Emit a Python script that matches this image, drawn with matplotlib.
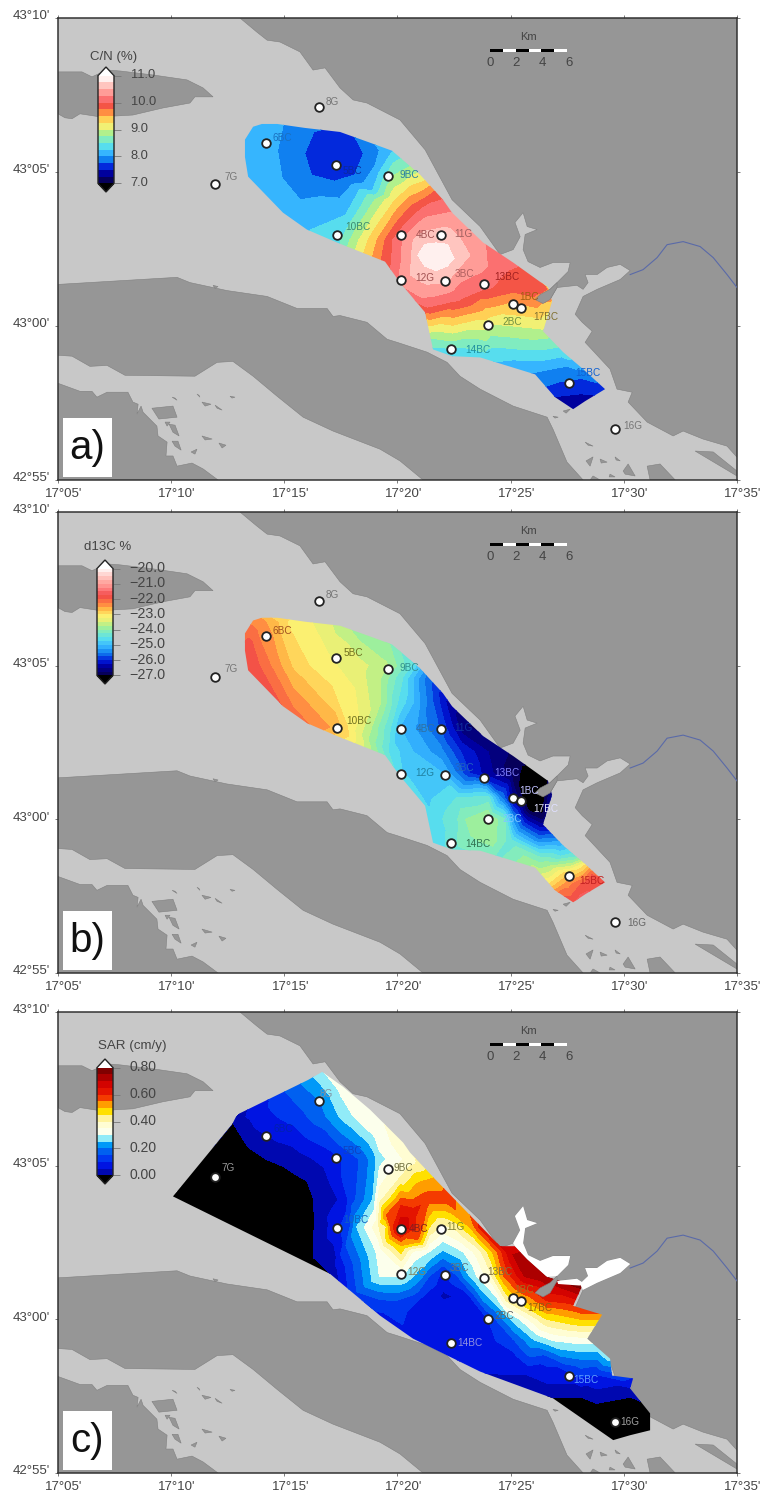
import matplotlib
matplotlib.use('Agg')
import matplotlib.pyplot as plt
import matplotlib.tri as mtri
from matplotlib.cm import ScalarMappable
from matplotlib.colors import BoundaryNorm, LinearSegmentedColormap
from matplotlib.patches import Polygon, Rectangle
from matplotlib.transforms import ScaledTranslation
import numpy as np

plt.rcParams['font.family'] = ['Liberation Sans', 'DejaVu Sans']

# all map coordinates are arc minutes: lon east of 17 deg 00', lat north of 42 deg 50'
north_land = [(13.04, 20.0), (13.79, 19.54), (14.24, 19.28), (14.81, 19.22), (15.69, 18.90), (16.27, 18.31),
              (16.80, 18.38), (17.46, 17.73), (18.04, 17.34), (18.65, 17.24), (20.11, 16.69), (21.22, 15.72),
              (22.41, 14.10), (23.65, 13.23), (24.53, 12.32), (25.11, 12.48), (25.42, 12.90), (25.19, 13.36),
              (25.55, 13.68), (25.73, 13.23), (26.17, 13.13), (25.64, 12.97), (25.55, 12.48), (25.77, 12.09),
              (26.30, 11.90), (26.87, 12.06), (27.63, 12.06), (27.54, 11.77), (27.05, 11.41), (26.74, 11.19),
              (26.30, 11.02), (26.08, 10.86), (26.43, 10.73), (26.74, 10.86), (27.05, 11.25), (27.93, 11.32),
              (28.20, 11.19), (28.42, 11.41), (28.29, 11.67), (28.82, 11.67), (29.26, 11.90), (29.84, 12.00),
              (30.28, 11.80), (29.84, 11.51), (28.82, 11.19), (28.20, 10.96), (27.85, 10.38), (28.16, 10.12),
              (28.60, 9.83), (28.29, 9.47), (29.39, 8.60), (29.70, 7.95), (30.37, 7.85), (30.19, 7.53),
              (31.03, 6.88), (32.18, 6.43), (32.62, 6.59), (33.50, 6.33), (34.56, 6.10), (35.0, 5.74), (35.0, 20.0)]
middle_land = [(5.0, 11.35), (10.26, 11.58), (10.83, 11.41), (12.47, 11.15), (14.24, 10.96), (15.56, 10.57),
               (16.89, 10.57), (17.15, 10.31), (17.46, 10.34), (18.65, 10.12), (19.54, 9.57), (19.98, 9.47),
               (21.31, 9.15), (22.19, 8.82), (22.76, 8.37), (23.65, 7.95), (25.11, 7.40), (26.61, 7.04),
               (26.87, 6.65), (27.49, 5.58), (28.20, 5.0), (21.13, 5.0), (20.11, 5.62), (19.23, 6.00),
               (17.15, 6.59), (15.83, 7.04), (14.68, 7.72), (13.62, 8.37), (12.73, 8.85), (12.03, 8.82),
               (11.05, 8.37), (7.96, 8.40), (7.17, 8.72), (6.41, 8.69), (5.62, 9.02), (5.0, 9.05)]
southwest_land = [(5.0, 8.14), (5.97, 7.88), (6.50, 7.88), (6.72, 7.69), (7.17, 7.85), (8.09, 7.85), (8.31, 7.53),
                  (8.54, 7.46), (8.49, 7.14), (8.67, 7.40), (8.76, 7.20), (9.37, 6.75), (9.42, 6.43), (9.82, 6.23),
                  (9.77, 5.78), (10.08, 5.78), (10.26, 5.45), (10.92, 5.55), (11.41, 5.36), (12.07, 5.0), (5.0, 5.0)]
northwest_island = [(5.0, 18.25), (6.06, 18.25), (6.50, 18.09), (7.17, 18.31), (7.74, 18.28), (9.20, 18.15),
                    (10.70, 17.99), (11.41, 17.73), (11.85, 17.44), (11.05, 17.44), (10.83, 17.24), (9.64, 17.08),
                    (8.31, 16.85), (6.86, 16.79), (5.97, 16.89), (5.62, 16.73), (5.31, 16.76), (5.0, 16.89)]
small_islands = [
    [(9.15, 7.33), (10.08, 7.40), (10.26, 7.04), (9.46, 6.98)],
    [(9.91, 6.81), (10.17, 6.78), (10.35, 6.43), (10.08, 6.55)],
    [(10.04, 6.26), (10.30, 6.26), (10.44, 5.97), (10.17, 6.10)],
    [(10.88, 5.91), (11.14, 6.00), (11.05, 5.84)],
    [(11.36, 6.43), (11.81, 6.33), (11.50, 6.30)],
    [(12.11, 6.20), (12.42, 6.13), (12.25, 6.04)],
    [(11.36, 7.53), (11.76, 7.46), (11.50, 7.40)],
    [(11.94, 7.43), (12.25, 7.27), (12.03, 7.33)],
    [(11.14, 7.79), (11.27, 7.69), (11.23, 7.75)],
    [(10.04, 7.69), (10.26, 7.59), (10.17, 7.66)],
    [(12.60, 7.72), (12.82, 7.69), (12.69, 7.66)],
    [(11.85, 11.32), (12.07, 11.28), (11.94, 11.22)],
    [(9.73, 6.88), (9.82, 6.75), (9.95, 6.88)],
    [(28.29, 6.23), (28.64, 6.10), (28.42, 6.13)],
    [(28.33, 5.62), (28.64, 5.75), (28.51, 5.45)],
    [(28.95, 5.68), (29.26, 5.58), (29.00, 5.55)],
    [(29.61, 5.75), (29.84, 5.62), (29.66, 5.65)],
    [(29.97, 5.29), (30.19, 5.52), (30.50, 5.13), (30.06, 5.19)],
    [(31.03, 5.45), (31.60, 5.52), (32.27, 5.0), (31.16, 5.0)],
    [(28.64, 5.13), (28.95, 5.0), (28.51, 5.0)],
    [(29.39, 5.19), (29.61, 5.10), (29.35, 5.10)],
    [(33.15, 5.94), (33.95, 5.91), (35.0, 5.29), (35.0, 5.13)],
    [(26.87, 7.07), (27.10, 7.04), (26.96, 7.01)],
    [(27.32, 7.24), (27.63, 7.30), (27.45, 7.17)],
]
# land spit that sits on top of the coloured field
land_spit = [(26.30, 11.02), (26.08, 10.86), (26.43, 10.73), (26.74, 10.86), (27.05, 11.25), (27.05, 11.41),
             (26.74, 11.19)]
river = [(30.28, 11.67), (30.85, 11.83), (31.47, 12.22), (31.91, 12.64), (32.62, 12.74), (33.37, 12.58),
         (33.95, 12.22), (34.56, 11.67), (35.0, 11.25)]

# inlets shown white (above range) in panel c
sar_white_bays = [
    [(25.11, 12.48), (25.42, 12.90), (25.19, 13.36), (25.55, 13.68), (25.73, 13.23), (26.17, 13.13), (25.64, 12.97),
     (25.55, 12.48), (25.77, 12.09), (26.30, 11.90), (26.87, 12.06), (27.63, 12.06), (27.54, 11.77), (27.05, 11.41),
     (26.61, 11.38), (25.73, 11.96), (25.19, 12.38)],
    [(28.42, 11.41), (28.29, 11.67), (28.82, 11.67), (29.26, 11.90), (29.84, 12.00), (30.28, 11.80), (29.84, 11.51),
     (28.82, 11.19), (28.20, 10.96), (28.05, 11.15)],
    [(27.05, 11.25), (27.93, 11.32), (28.20, 11.19), (28.05, 11.10), (27.10, 11.15)],
]

channel_outline = [(13.26, 15.49), (13.26, 16.05), (13.62, 16.47), (14.01, 16.56), (14.68, 16.56), (15.92, 16.43),
                   (17.46, 16.30), (18.79, 15.95), (19.76, 15.69), (21.00, 14.91), (22.01, 14.10), (22.41, 13.68),
                   (23.78, 12.71), (25.11, 12.06), (26.65, 11.25), (26.83, 10.80), (26.43, 9.83), (27.32, 9.15),
                   (28.20, 8.60), (29.17, 7.95), (28.29, 7.56), (27.76, 7.30), (26.96, 7.69), (26.08, 8.43),
                   (23.65, 8.98), (22.41, 9.02), (21.57, 9.24), (21.35, 9.99), (21.22, 10.44), (20.11, 11.41),
                   (19.45, 12.09), (17.33, 12.71), (16.00, 13.13), (14.94, 13.68), (13.40, 14.85)]
sar_outline = [(10.08, 14.00), (12.69, 16.34), (12.91, 16.66), (16.05, 17.79), (16.67, 18.05), (17.59, 17.57),
               (18.79, 16.82), (20.25, 15.75), (20.55, 15.43), (21.66, 14.56), (23.07, 13.49), (24.53, 12.38),
               (25.19, 12.38), (25.73, 11.96), (26.61, 11.38), (27.18, 11.25), (28.20, 11.15), (27.76, 10.44),
               (29.04, 10.15), (28.38, 9.37), (29.39, 8.72), (29.48, 8.17), (30.41, 8.08), (30.28, 7.75),
               (31.16, 6.94), (31.16, 6.39), (30.28, 6.23), (29.53, 6.07), (26.87, 7.43), (23.65, 8.30),
               (20.69, 9.37), (19.23, 10.12), (17.02, 11.48)]

stations = ['6BC', '5BC', '9BC', '7G', '8G', '10BC', '4BC', '11G', '12G', '3BC', '13BC', '1BC', '17BC', '2BC',
            '14BC', '15BC', '16G']
station_lon = [14.19, 17.28, 19.58, 11.94, 16.53, 17.33, 20.16, 21.92, 20.16, 22.10, 23.82, 25.11, 25.46, 24.00,
               22.37, 27.58, 29.61]
station_lat = [15.95, 15.24, 14.88, 14.62, 17.11, 12.97, 12.94, 12.94, 11.48, 11.45, 11.35, 10.70, 10.60, 10.02,
               9.24, 8.14, 6.65]

# field values: (lon, lat, value)
cn_nodes = [
    (17.2, 15.6, 7.6), (16.6, 15.5, 7.6), (17.8, 15.5, 7.6),
    (15.9, 15.6, 7.75), (16.3, 16.3, 7.75), (17.2, 16.5, 7.75), (18.0, 16.3, 7.75), (18.5, 15.6, 7.75),
    (18.1, 14.9, 7.75), (17.2, 14.7, 7.75), (16.2, 14.9, 7.75),
    (14.7, 15.7, 8.0), (14.9, 14.8, 8.0), (15.7, 14.1, 8.0), (16.6, 14.2, 8.0), (18.0, 14.6, 8.0), (19.0, 15.2, 8.0),
    (19.2, 15.7, 8.0), (18.5, 16.5, 8.0), (15.0, 16.7, 8.0),
    (13.3, 15.7, 8.15), (14.0, 16.6, 8.1), (13.4, 14.9, 8.15), (14.9, 13.7, 8.2), (12.8, 16.8, 8.1), (12.8, 14.5, 8.1),
    (14.5, 13.0, 8.2), (16.0, 17.0, 7.9), (17.5, 17.0, 7.9), (19.0, 16.6, 8.1),
    (16.1, 13.1, 8.25), (17.7, 13.6, 8.25), (18.9, 14.4, 8.25), (19.8, 15.7, 8.25),
    (17.5, 12.8, 8.5), (18.3, 12.8, 9.0), (19.1, 12.8, 9.5), (19.8, 12.8, 10.0), (20.3, 12.8, 10.3),
    (17.3, 12.3, 8.5), (19.2, 12.1, 9.7), (19.9, 12.0, 10.1), (18.3, 12.1, 9.2),
    (19.0, 14.1, 8.75), (19.9, 14.1, 9.25), (20.6, 13.9, 9.75), (21.3, 13.8, 10.1),
    (20.6, 15.2, 8.75), (21.2, 14.7, 9.25), (21.7, 14.4, 9.75), (22.0, 14.1, 10.0), (22.4, 13.7, 10.25),
    (21.5, 15.6, 8.8), (22.5, 14.8, 9.8), (23.5, 13.5, 10.3),
    (21.7, 12.3, 10.9), (20.8, 12.8, 10.55), (20.6, 12.2, 10.5), (22.8, 12.8, 10.5), (23.2, 12.3, 10.5),
    (21.9, 11.4, 10.5), (20.9, 12.3, 10.75), (21.7, 12.7, 10.75), (22.5, 12.2, 10.75), (21.7, 11.8, 10.75),
    (21.2, 12.65, 10.75), (22.2, 12.65, 10.75), (22.2, 11.95, 10.75), (21.2, 11.95, 10.75),
    (23.7, 11.9, 10.3), (24.8, 12.1, 10.1), (21.0, 11.0, 10.3), (20.1, 11.4, 10.3), (25.9, 11.3, 10.0),
    (23.8, 11.3, 10.1), (22.5, 10.9, 10.1), (21.4, 10.7, 10.1), (25.6, 12.0, 10.0),
    (21.2, 10.4, 9.75), (23.7, 10.9, 9.75), (25.1, 11.1, 9.75), (26.6, 11.2, 9.75),
    (21.3, 10.3, 9.5), (23.7, 10.5, 9.5), (26.7, 10.8, 9.5),
    (21.4, 10.0, 9.25), (24.1, 10.3, 9.25), (26.7, 10.5, 9.25),
    (21.4, 9.8, 9.0), (24.0, 9.9, 9.0), (26.4, 9.9, 9.0),
    (21.5, 9.6, 8.75), (24.1, 9.7, 8.75), (26.6, 9.6, 8.75),
    (21.6, 9.3, 8.5), (24.2, 9.3, 8.5), (27.0, 9.3, 8.5),
    (22.4, 9.0, 8.25), (25.1, 8.9, 8.25), (27.6, 8.9, 8.25),
    (26.1, 8.5, 8.0), (27.5, 8.7, 8.0), (28.4, 8.6, 8.0),
    (26.4, 8.0, 7.75), (28.1, 8.3, 7.75), (29.1, 8.1, 7.75),
    (26.9, 7.7, 7.5), (28.1, 7.8, 7.5), (29.3, 7.8, 7.5),
    (27.8, 7.2, 7.25), (28.5, 7.4, 7.25), (21.0, 9.0, 8.4), (23.8, 8.7, 8.2), (29.9, 8.6, 7.9),
]
d13c_nodes = [
    (13.0, 15.0, -21.7), (13.4, 15.5, -21.8), (13.9, 15.0, -22.0), (14.5, 15.0, -22.3), (15.4, 15.0, -22.8),
    (16.1, 15.0, -23.0), (17.0, 15.0, -23.2), (18.3, 15.0, -23.4), (19.5, 15.0, -23.7), (20.4, 15.0, -24.3),
    (15.4, 13.0, -22.0), (17.3, 13.0, -22.6), (17.8, 13.0, -23.0), (18.8, 13.0, -23.7), (19.8, 13.0, -24.6),
    (13.9, 16.4, -22.4), (14.5, 16.4, -22.6), (15.1, 16.4, -23.0), (16.9, 16.4, -23.4), (17.3, 16.4, -23.6),
    (18.3, 16.4, -24.0), (19.8, 16.4, -24.3), (13.4, 16.9, -22.5), (21.5, 15.3, -25.2),
    (19.2, 14.6, -23.7), (20.1, 14.6, -24.4), (20.7, 14.6, -25.0), (21.3, 14.6, -25.6),
    (19.2, 13.8, -23.7), (20.0, 13.8, -24.5), (20.7, 13.8, -25.0), (21.4, 13.8, -25.6), (22.2, 13.8, -26.3),
    (20.1, 13.0, -25.0), (20.9, 13.0, -25.3), (21.9, 13.0, -25.8), (22.5, 13.0, -26.3), (22.9, 13.0, -26.7),
    (19.7, 12.2, -24.6), (20.7, 12.2, -25.0), (21.9, 12.2, -25.4), (22.8, 12.2, -26.0), (24.0, 12.2, -26.5),
    (25.1, 12.2, -26.8), (23.9, 13.2, -27.0),
    (20.1, 11.5, -24.7), (22.0, 11.5, -25.0), (22.6, 11.5, -25.5), (23.2, 11.5, -26.0), (23.8, 11.5, -26.3),
    (25.1, 11.5, -26.9), (25.7, 11.5, -27.1), (26.6, 11.5, -27.2),
    (21.4, 10.7, -24.8), (22.6, 10.7, -24.5), (24.0, 10.7, -24.4), (24.6, 10.7, -25.5), (25.1, 10.7, -26.5),
    (25.6, 10.7, -27.1), (26.4, 10.7, -27.2), (25.8, 10.3, -27.05), (26.4, 10.3, -27.1),
    (21.4, 10.0, -24.7), (22.6, 10.0, -24.3), (23.0, 10.0, -24.0), (24.0, 10.0, -23.7), (24.7, 10.0, -24.2),
    (25.1, 10.0, -25.3), (25.7, 10.0, -26.3), (26.4, 10.0, -26.8),
    (21.7, 9.3, -24.7), (22.4, 9.3, -24.35), (23.0, 9.3, -24.1), (24.2, 9.3, -23.9), (25.0, 9.3, -24.4),
    (26.2, 9.3, -25.4), (27.1, 9.3, -25.3),
    (22.0, 8.7, -24.6), (24.2, 8.6, -24.3), (26.3, 8.8, -24.3), (27.2, 8.8, -24.5), (27.9, 8.8, -24.3),
    (26.7, 8.5, -23.8), (28.1, 8.5, -23.2), (28.6, 8.5, -22.6),
    (26.3, 8.2, -23.5), (27.5, 8.2, -22.8), (28.6, 8.2, -22.0),
    (26.7, 7.9, -23.0), (27.5, 7.9, -22.4), (28.4, 7.9, -21.8), (29.3, 7.9, -21.8),
    (27.2, 7.5, -22.0), (27.8, 7.2, -21.7), (28.4, 7.4, -21.7),
]
sar_nodes = [
    (10.0, 13.9, -0.05), (11.9, 14.6, -0.05), (12.4, 16.0, -0.05), (13.9, 14.4, -0.05), (15.7, 13.5, -0.05),
    (15.7, 11.9, -0.05), (12.4, 13.1, -0.05), (11.3, 13.1, -0.05), (16.3, 11.2, -0.05),
    (12.8, 16.3, 0.0), (13.4, 15.6, 0.0), (14.2, 15.2, 0.0), (16.0, 14.5, 0.0), (16.3, 13.9, 0.0), (16.3, 12.0, 0.0),
    (17.0, 11.5, 0.0),
    (15.4, 15.2, 0.02), (17.2, 15.2, 0.08), (18.3, 15.2, 0.15), (18.9, 15.2, 0.22), (19.2, 15.2, 0.28),
    (19.8, 15.2, 0.32), (20.4, 15.2, 0.36),
    (12.9, 16.6, 0.03), (13.9, 16.6, 0.08), (15.4, 16.6, 0.12), (16.6, 16.6, 0.18), (17.3, 16.6, 0.24),
    (17.8, 16.6, 0.28), (18.3, 16.6, 0.32), (19.1, 16.2, 0.34),
    (16.0, 17.8, 0.22), (16.7, 18.1, 0.3), (17.6, 17.6, 0.33), (16.6, 17.1, 0.2), (14.7, 17.2, 0.12),
    (13.4, 16.9, 0.05), (15.0, 18.2, 0.2), (18.0, 18.3, 0.34), (19.5, 17.0, 0.36),
    (16.9, 13.9, 0.03), (17.6, 13.9, 0.06), (17.9, 13.9, 0.12), (18.4, 13.9, 0.18), (18.9, 13.9, 0.25),
    (19.2, 13.9, 0.38), (19.8, 13.9, 0.48), (20.7, 13.9, 0.55), (21.3, 13.9, 0.58), (22.2, 13.9, 0.58),
    (20.1, 14.6, 0.4), (20.9, 14.6, 0.48), (21.6, 14.6, 0.5), (22.5, 14.8, 0.55),
    (17.3, 13.0, 0.08), (17.9, 13.0, 0.15), (18.2, 13.0, 0.25), (18.4, 13.0, 0.28), (19.1, 13.0, 0.38),
    (19.5, 13.0, 0.45), (19.8, 13.0, 0.6), (20.15, 12.95, 0.7), (20.7, 13.0, 0.62), (21.1, 13.0, 0.55),
    (21.4, 13.0, 0.45), (22.0, 13.0, 0.38), (22.6, 13.0, 0.42), (23.2, 13.0, 0.5), (23.6, 13.0, 0.6),
    (19.5, 13.4, 0.55), (20.7, 13.5, 0.62), (20.9, 12.6, 0.55), (19.6, 12.6, 0.48), (20.15, 13.7, 0.6),
    (20.15, 12.4, 0.5),
    (19.2, 12.2, 0.32), (20.7, 12.2, 0.34), (21.4, 12.2, 0.3), (22.0, 12.2, 0.24), (22.9, 12.2, 0.3),
    (23.6, 12.2, 0.38), (24.2, 12.2, 0.5), (24.8, 12.2, 0.65), (25.1, 12.1, 0.7),
    (19.2, 11.4, 0.3), (20.2, 11.4, 0.3), (21.0, 11.4, 0.22), (21.4, 11.4, 0.15), (22.0, 11.4, 0.08),
    (22.6, 11.4, 0.14), (23.1, 11.4, 0.24), (23.5, 11.4, 0.3), (24.1, 11.4, 0.38), (24.7, 11.4, 0.55),
    (25.6, 11.4, 0.7), (26.6, 11.4, 0.75), (28.2, 11.1, 0.78),
    (17.6, 10.6, 0.06), (19.2, 10.6, 0.14), (19.9, 10.6, 0.15), (20.9, 10.6, 0.1), (22.05, 10.8, 0.04), (22.0, 10.3, 0.07),
    (23.2, 10.6, 0.07), (23.8, 10.6, 0.2), (24.4, 10.6, 0.28), (24.8, 10.6, 0.4), (25.6, 10.6, 0.5),
    (26.6, 10.6, 0.6), (27.6, 10.6, 0.62),
    (19.0, 9.9, 0.06), (20.7, 10.0, 0.07), (22.2, 9.9, 0.07), (24.0, 10.0, 0.1), (24.8, 10.0, 0.22),
    (25.4, 10.0, 0.3), (26.6, 10.0, 0.45), (28.1, 10.0, 0.5), (28.6, 10.0, 0.5), (29.2, 10.2, 0.55),
    (20.5, 9.2, 0.06), (22.3, 9.3, 0.06), (23.6, 9.3, 0.06), (25.1, 9.3, 0.14), (26.0, 9.3, 0.24),
    (26.9, 9.3, 0.3), (28.1, 9.3, 0.32), (28.9, 9.3, 0.32),
    (23.6, 8.7, 0.06), (25.1, 8.7, 0.07), (26.6, 8.7, 0.12), (28.1, 8.7, 0.2), (29.3, 8.7, 0.26),
    (23.0, 8.0, 0.04), (25.7, 8.2, 0.05), (27.6, 8.2, 0.08), (28.8, 8.2, 0.1), (30.3, 8.2, 0.12),
    (26.6, 7.7, 0.03), (28.1, 7.7, 0.03), (30.3, 7.7, 0.03),
    (26.9, 7.45, -0.002), (28.1, 7.45, -0.002), (30.3, 7.45, -0.002), (31.2, 6.9, -0.002),
    (29.6, 6.6, -0.05), (28.8, 6.8, -0.05), (30.9, 6.6, -0.05), (30.3, 6.1, -0.05), (29.5, 5.9, -0.05),
    (31.5, 6.4, -0.05), (27.5, 6.9, -0.05), (31.5, 7.1, 0.0), (31.0, 8.4, 0.12), (30.0, 9.2, 0.33),
]

map_colors = [(0.0, '#06005a'), (0.07, '#0000a0'), (0.12, '#0018d8'), (0.2, '#1080f0'), (0.27, '#38b8ff'),
              (0.33, '#55dcf0'), (0.40, '#80ecc0'), (0.46, '#a8f090'), (0.50, '#e0f078'), (0.56, '#fff070'),
              (0.62, '#ffc048'), (0.68, '#ff8040'), (0.75, '#f04848'), (0.82, '#ff8080'), (0.90, '#ffb0a8'),
              (1.0, '#fff0ee')]
sar_colors = [(0.0, '#0008b0'), (0.06, '#0010e0'), (0.12, '#0030f0'), (0.2, '#0060f0'), (0.26, '#0090f8'),
              (0.31, '#00d0f8'), (0.35, '#f8fff8'), (0.45, '#ffffe0'), (0.55, '#fff090'), (0.6, '#ffe000'),
              (0.68, '#ff9000'), (0.75, '#f02000'), (0.88, '#d00000'), (1.0, '#800000')]

cn_levels = np.arange(7.0, 11.01, 0.25)
d13c_levels = np.arange(-27.0, -19.99, 0.25)
sar_levels = np.arange(0.0, 0.801, 0.05)
cn_ticks = [7.0, 8.0, 9.0, 10.0, 11.0]
cn_tick_labels = ['7.0', '8.0', '9.0', '10.0', '11.0']
d13c_ticks = [-27, -26, -25, -24, -23, -22, -21, -20]
d13c_tick_labels = ['\u221227.0', '\u221226.0', '\u221225.0', '\u221224.0', '\u221223.0', '\u221222.0', '\u221221.0',
                    '\u221220.0']
sar_ticks = [0.0, 0.2, 0.4, 0.6, 0.8]
sar_tick_labels = ['0.00', '0.20', '0.40', '0.60', '0.80']

lon_ticks = [5, 10, 15, 20, 25, 30, 35]
lon_tick_labels = ["17\u00b005'", "17\u00b010'", "17\u00b015'", "17\u00b020'", "17\u00b025'", "17\u00b030'",
                   "17\u00b035'"]
lat_ticks = [5, 10, 15, 20]
lat_tick_labels = ["42\u00b055'", "43\u00b000'", "43\u00b005'", "43\u00b010'"]

# label offsets from the station in pixels (right, down)
cn_offsets = [(6, -5), (7, 6), (12, -1), (9, -7), (7, -5), (8, -8), (15, 0), (13, -1), (14, -2), (10, -7), (10, -7),
              (6, -7), (12, 9), (14, -3), (14, 1), (6, -10), (8, -3)]
d13c_offsets = [(6, -5), (8, -5), (12, -1), (9, -8), (7, -6), (9, -7), (15, 0), (13, -1), (14, -1), (10, -7), (10, -5),
                (6, -7), (12, 8), (14, 0), (14, 1), (10, 5), (12, 1)]
sar_offsets = [(7, -7), (7, -7), (6, -1), (6, -9), (1, -7), (6, -8), (8, 0), (5, -2), (6, -2), (5, -7), (3, -6),
               (1, -8), (6, 7), (6, -3), (6, 0), (4, 4), (5, 0)]
cn_label_colors = ['#1a70c0', '#0a2aa0', '#2a80a0', '#777777', '#777777', '#3a8a70', '#a05050', '#a06060', '#a05050',
                   '#b06060', '#a02020', '#a06010', '#807030', '#709040', '#2090a0', '#1060d0', '#777777']
d13c_label_colors = ['#a05020', '#707020', '#309090', '#777777', '#777777', '#707020', '#3070a0', '#1030a0', '#2080a0',
                     '#2060c0', '#8080ff', '#c0c0ff', '#e0e0ff', '#80c8ff', '#307050', '#c02020', '#666666']
sar_label_colors = ['#0020b0', '#1040c0', '#707040', '#999999', '#8090a0', '#1060c0', '#802020', '#808030', '#808060',
                    '#607080', '#807040', '#a07020', '#906010', '#606060', '#9090e0', '#60a0ff', '#a0a0a0']

W, H = 765.0, 1499.0
SEA = '#c8c8c8'
LAND = '#969696'
TEXT = '#444444'


def px_axes(fig, left, top, right, bottom):
    return fig.add_axes([left / W, 1 - bottom / H, (right - left) / W, (bottom - top) / H])


def draw_base(ax, fig):
    ax.set_facecolor(SEA)
    ax.set_xlim(5, 35)
    ax.set_ylim(5, 20)
    for coast in [north_land, middle_land, southwest_land, northwest_island] + small_islands:
        ax.add_patch(Polygon(coast, facecolor=LAND, edgecolor='#808080', linewidth=0.4, zorder=1.5))
    ax.add_patch(Polygon(land_spit, facecolor=LAND, edgecolor='#808080', linewidth=0.4, zorder=3))
    ax.plot(*zip(*river), color='#5a6aa8', linewidth=0.8, zorder=3)
    ax.set_xticks(lon_ticks, lon_tick_labels)
    ax.set_yticks(lat_ticks, lat_tick_labels)
    ax.tick_params(top=True, right=True, length=2.5, width=0.6, color='#666666', labelsize=9.5,
                   labelcolor=TEXT, pad=3)
    for label in ax.get_xticklabels():
        label.set_transform(label.get_transform() + ScaledTranslation(0.06, 0, fig.dpi_scale_trans))
    for label in ax.get_yticklabels():
        label.set_transform(label.get_transform() + ScaledTranslation(0, 0.03, fig.dpi_scale_trans))
    for spine in ax.spines.values():
        spine.set_linewidth(1.1)
        spine.set_color('#333333')


def draw_field(ax, nodes, outline, levels, cmap):
    lon, lat, value = zip(*nodes)
    norm = BoundaryNorm(levels, cmap.N)
    tri = mtri.Triangulation(lon, lat)
    filled = ax.tricontourf(tri, value, levels=levels, cmap=cmap, norm=norm, extend='both', zorder=2)
    clip = Polygon(outline, facecolor='none', edgecolor='none', transform=ax.transData)
    ax.add_patch(clip)
    filled.set_clip_path(clip)
    return norm


def draw_stations(ax, offsets, colors):
    ax.plot(station_lon, station_lat, linestyle='none', marker='o', markersize=6.2, markerfacecolor='white',
            markeredgecolor='#222222', markeredgewidth=1.3, zorder=5)
    for i, name in enumerate(stations):
        dx, dy = offsets[i]
        ax.annotate(name, (station_lon[i], station_lat[i]), xytext=(dx * 0.72, -dy * 0.72),
                    textcoords='offset points', fontsize=7.2, color=colors[i], va='center', ha='left', zorder=6)


def draw_scale(ax):
    km = 0.567
    x0, y0 = 24.09, 18.93
    for i in range(6):
        ax.add_patch(Rectangle((x0 + i * km, y0 - 0.05), km, 0.1, facecolor='black' if i % 2 == 0 else 'white',
                               edgecolor='none', zorder=4))
    for i in [0, 2, 4, 6]:
        ax.text(x0 + i * km * 1.02, y0 - 0.4, str(i), fontsize=9.5, color=TEXT, ha='center', va='center', zorder=6)
    ax.text(x0 + 3 * km, y0 + 0.46, 'Km', fontsize=8, color=TEXT, ha='center', va='center', zorder=6)


def draw_tag(ax, tag):
    ax.add_patch(Rectangle((5.2, 5.1), 2.2, 1.92, facecolor='white', edgecolor='none', zorder=7))
    ax.text(6.3, 6.05, tag, fontsize=29, color='#111111', ha='center', va='center', zorder=8)


def draw_colorbar(fig, box, norm, cmap, ticks, labels, size):
    # box includes both end triangles
    cax = px_axes(fig, *box)
    cb = fig.colorbar(ScalarMappable(norm=norm, cmap=cmap), cax=cax, extend='both', extendfrac=0.08, spacing='uniform')
    cb.set_ticks(ticks, labels=labels)
    cb.minorticks_off()
    cb.ax.tick_params(length=5, width=0.6, color='#777777', labelsize=size, labelcolor=TEXT, pad=7)
    for label in cb.ax.get_yticklabels():
        label.set_transform(label.get_transform() + ScaledTranslation(0, 0.02, fig.dpi_scale_trans))
    cb.outline.set_linewidth(1.0)
    cb.outline.set_edgecolor('#222222')
    cax.patch.set_alpha(0)
    return cb


def main():
    fig = plt.figure(figsize=(W / 100, H / 100), dpi=100, facecolor='white')

    map_cmap = LinearSegmentedColormap.from_list('map', map_colors, N=256).with_extremes(over='white', under='black')
    sar_cmap = LinearSegmentedColormap.from_list('sar', sar_colors, N=256).with_extremes(over='white', under='black')

    ax_a = px_axes(fig, 58, 18, 737, 480)
    draw_base(ax_a, fig)
    norm = draw_field(ax_a, cn_nodes, channel_outline, cn_levels, map_cmap)
    draw_stations(ax_a, cn_offsets, cn_label_colors)
    draw_scale(ax_a)
    draw_tag(ax_a, 'a)')
    draw_colorbar(fig, (98, 67, 114, 192), norm, map_cmap, cn_ticks, cn_tick_labels, 9.3)
    fig.text(114 / W, 1 - 57 / H, 'C/N (%)', fontsize=9.5, color=TEXT, ha='center', va='center')

    ax_b = px_axes(fig, 58, 512, 737, 973)
    draw_base(ax_b, fig)
    norm = draw_field(ax_b, d13c_nodes, channel_outline, d13c_levels, map_cmap)
    draw_stations(ax_b, d13c_offsets, d13c_label_colors)
    draw_scale(ax_b)
    draw_tag(ax_b, 'b)')
    draw_colorbar(fig, (97, 560, 113, 684), norm, map_cmap, d13c_ticks, d13c_tick_labels, 10.3)
    fig.text(108 / W, 1 - 547 / H, 'd13C %', fontsize=9.5, color=TEXT, ha='center', va='center')

    ax_c = px_axes(fig, 58, 1012, 737, 1473)
    draw_base(ax_c, fig)
    norm = draw_field(ax_c, sar_nodes, sar_outline, sar_levels, sar_cmap)
    for bay in sar_white_bays:
        ax_c.add_patch(Polygon(bay, facecolor='white', edgecolor='none', zorder=2.5))
    draw_stations(ax_c, sar_offsets, sar_label_colors)
    draw_scale(ax_c)
    draw_tag(ax_c, 'c)')
    draw_colorbar(fig, (97, 1059, 113, 1184), norm, sar_cmap, sar_ticks, sar_tick_labels, 10)
    fig.text(132 / W, 1 - 1046 / H, 'SAR (cm/y)', fontsize=9.6, color=TEXT, ha='center', va='center')

    fig.savefig('out.png', dpi=100)


if __name__ == '__main__':
    main()
